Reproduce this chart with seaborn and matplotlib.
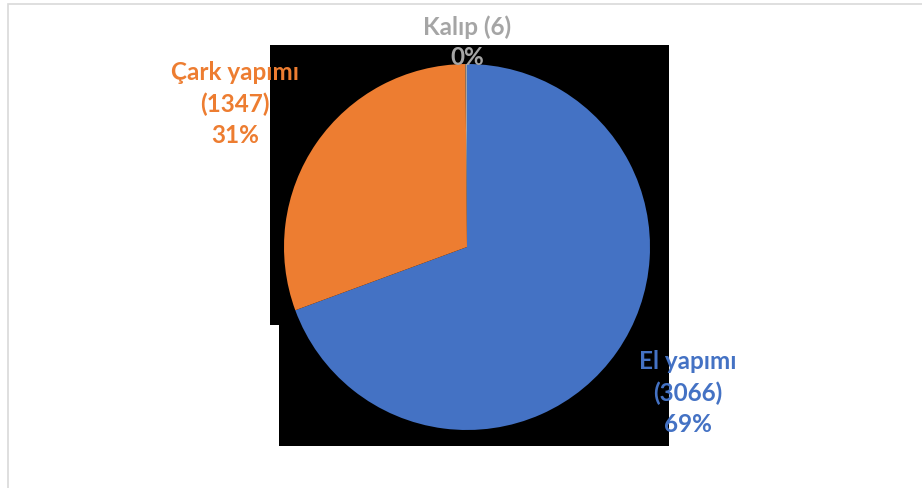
import matplotlib
matplotlib.use("Agg")
import matplotlib.pyplot as plt
from matplotlib.patches import Rectangle
import seaborn as sns

# Data
categories = ["El yapımı", "Çark yapımı", "Kalıp"]
counts = [3066, 1347, 6]
pct_labels = ["69%", "31%", "0%"]
colors = ["#4472C4", "#ED7D31", "#A5A5A5"]

W, H = 922, 489


def main():
    sns.set_theme(style="white")
    plt.rcParams["font.family"] = ["Lato", "DejaVu Sans"]

    fig = plt.figure(figsize=(W / 100, H / 100), dpi=100)
    fig.patch.set_facecolor("white")

    ax = fig.add_axes([0, 0, 1, 1])
    ax.patch.set_alpha(0)

    # chart area border (light grey, top and left visible)
    ax.add_patch(Rectangle((8, -50), 1000, H - 5 + 50, fill=False,
                           edgecolor="#D9D9D9", linewidth=1.2, zorder=0))

    # black plot-area artefact behind the pie
    ax.add_patch(Rectangle((270, H - 326), 669 - 270, 326 - 46,
                           facecolor="black", edgecolor="none", zorder=0))
    ax.add_patch(Rectangle((279, H - 447), 669 - 279, 447 - 325,
                           facecolor="black", edgecolor="none", zorder=0))

    cx, cy, r = 467, H - 248, 183
    wedges, _ = ax.pie(counts, colors=colors, startangle=90, counterclock=False,
                       center=(cx, cy), radius=r,
                       wedgeprops=dict(edgecolor="none", linewidth=0))
    for w in wedges:
        w.set_zorder(2)
    ax.set_xlim(0, W)
    ax.set_ylim(0, H)
    ax.set_aspect("auto")
    ax.axis("off")

    # label positions (pixel centres of the first line) and line pitch
    label_pos = [(688, 362), (235, 73), (467, 27)]
    pitch = 32
    for i, cat in enumerate(categories):
        x, y = label_pos[i]
        if cat == "Kalıp":
            lines = [f"{cat} ({counts[i]})", pct_labels[i]]
        else:
            lines = [cat, f"({counts[i]})", pct_labels[i]]
        for j, line in enumerate(lines):
            ax.text(x, H - (y + j * pitch - (1 if j else 0)), line, ha="center", va="center",
                    fontsize=17.5, fontweight="bold", color=colors[i], zorder=3)

    fig.savefig("out.png", dpi=100, facecolor="white")


if __name__ == "__main__":
    main()
